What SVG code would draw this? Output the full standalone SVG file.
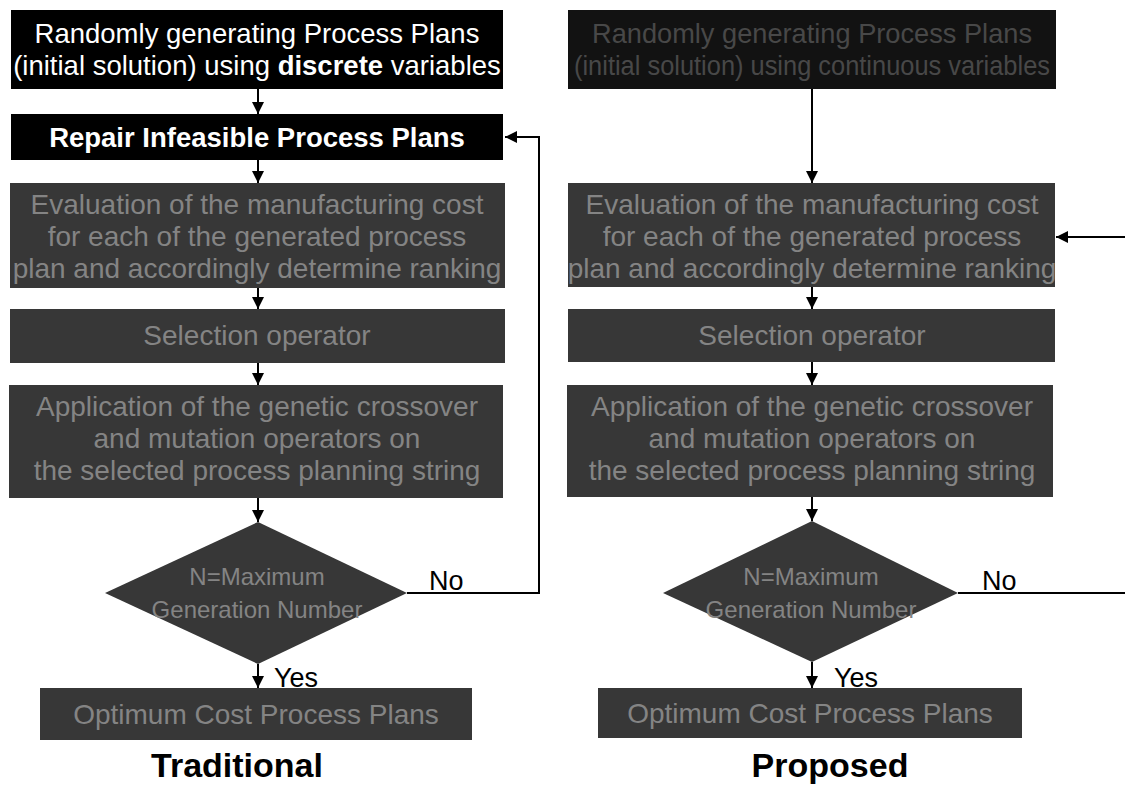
<svg xmlns="http://www.w3.org/2000/svg" width="1125" height="786" viewBox="0 0 1125 786">
  <defs>
    <marker id="arrow" markerUnits="userSpaceOnUse" markerWidth="12" markerHeight="12" refX="12" refY="6" orient="auto">
      <path d="M0,0 L12,6 L0,12 z" fill="#000"/>
    </marker>
    <style>
      text { font-family: "Liberation Sans", Arial, sans-serif; text-anchor: middle; }
      .black { fill: #000; }
      .gray { fill: #373737; }
      .darkest { fill: #121212; }
      .t-white { fill: #fff; font-size: 27.5px; }
      .t-bold { font-weight: bold; }
      .t-gray { fill: #848484; font-size: 28px; }
      .t-faint { fill: #484848; font-size: 27.5px; }
      .t-dia { fill: #848484; font-size: 24px; }
      .t-label { fill: #000; font-size: 27px; text-anchor: start; }
      .t-title { fill: #000; font-size: 34px; font-weight: bold; }
      .conn { stroke: #000; stroke-width: 2; fill: none; }
    </style>
  </defs>
  <rect width="1125" height="786" fill="#fff"/>

  <!-- Traditional flow -->
  <g id="t-init">
    <rect class="black" x="11" y="10" width="492" height="79"/>
    <text class="t-white" x="257" y="43">Randomly generating Process Plans</text>
    <text class="t-white" x="257" y="75">(initial solution) using <tspan class="t-bold">discrete</tspan> variables</text>
  </g>
  <g id="t-repair">
    <rect class="black" x="11" y="114" width="492" height="46"/>
    <text class="t-white t-bold" x="257" y="147">Repair Infeasible Process Plans</text>
  </g>
  <g id="t-eval">
    <rect class="gray" x="10" y="183" width="495" height="105"/>
    <text class="t-gray" x="257" y="214">Evaluation of the manufacturing cost</text>
    <text class="t-gray" x="257" y="246">for each of the generated process</text>
    <text class="t-gray" x="257" y="278">plan and accordingly determine ranking</text>
  </g>
  <g id="t-select">
    <rect class="gray" x="10" y="309" width="495" height="54"/>
    <text class="t-gray" x="257" y="345">Selection operator</text>
  </g>
  <g id="t-apply">
    <rect class="gray" x="9" y="385" width="494" height="113"/>
    <text class="t-gray" x="257" y="416">Application of the genetic crossover</text>
    <text class="t-gray" x="257" y="448">and mutation operators on</text>
    <text class="t-gray" x="257" y="480">the selected process planning string</text>
  </g>
  <g id="t-check">
    <polygon class="gray" points="258,522 407,593 258,664 105,593"/>
    <text class="t-dia" x="257" y="585">N=Maximum</text>
    <text class="t-dia" x="257" y="618">Generation Number</text>
  </g>
  <g id="t-result">
    <rect class="gray" x="40" y="688" width="432" height="52"/>
    <text class="t-gray" x="256" y="724">Optimum Cost Process Plans</text>
  </g>
  <text class="t-title" x="237" y="777">Traditional</text>

  <!-- Proposed flow -->
  <g id="p-init">
    <rect class="darkest" x="568" y="10" width="488" height="79"/>
    <text class="t-faint" x="812" y="43" textLength="440" lengthAdjust="spacingAndGlyphs">Randomly generating Process Plans</text>
    <text class="t-faint" x="812" y="75" textLength="476" lengthAdjust="spacingAndGlyphs">(initial solution) using continuous variables</text>
  </g>
  <g id="p-eval">
    <rect class="gray" x="568" y="183" width="487" height="104"/>
    <text class="t-gray" x="812" y="214">Evaluation of the manufacturing cost</text>
    <text class="t-gray" x="812" y="246">for each of the generated process</text>
    <text class="t-gray" x="812" y="278">plan and accordingly determine ranking</text>
  </g>
  <g id="p-select">
    <rect class="gray" x="568" y="309" width="487" height="53"/>
    <text class="t-gray" x="812" y="345">Selection operator</text>
  </g>
  <g id="p-apply">
    <rect class="gray" x="567" y="385" width="486" height="112"/>
    <text class="t-gray" x="812" y="416">Application of the genetic crossover</text>
    <text class="t-gray" x="812" y="448">and mutation operators on</text>
    <text class="t-gray" x="812" y="480">the selected process planning string</text>
  </g>
  <g id="p-check">
    <polygon class="gray" points="812,521 958,593 812,662 663,593"/>
    <text class="t-dia" x="811" y="585">N=Maximum</text>
    <text class="t-dia" x="811" y="618">Generation Number</text>
  </g>
  <g id="p-result">
    <rect class="gray" x="598" y="688" width="424" height="50"/>
    <text class="t-gray" x="810" y="723">Optimum Cost Process Plans</text>
  </g>
  <text class="t-title" x="830" y="777">Proposed</text>

  <!-- Connectors -->
  <g id="connectors">
    <line class="conn" x1="258" y1="89" x2="258" y2="114" marker-end="url(#arrow)"/>
    <line class="conn" x1="258" y1="160" x2="258" y2="183" marker-end="url(#arrow)"/>
    <line class="conn" x1="258" y1="288" x2="258" y2="309" marker-end="url(#arrow)"/>
    <line class="conn" x1="258" y1="363" x2="258" y2="385" marker-end="url(#arrow)"/>
    <line class="conn" x1="258" y1="498" x2="258" y2="522" marker-end="url(#arrow)"/>
    <line class="conn" x1="258" y1="664" x2="258" y2="688" marker-end="url(#arrow)"/>
    <polyline class="conn" points="407,593 539,593 539,137 505,137" marker-end="url(#arrow)"/>

    <line class="conn" x1="812" y1="89" x2="812" y2="183" marker-end="url(#arrow)"/>
    <line class="conn" x1="812" y1="287" x2="812" y2="309" marker-end="url(#arrow)"/>
    <line class="conn" x1="812" y1="362" x2="812" y2="385" marker-end="url(#arrow)"/>
    <line class="conn" x1="812" y1="497" x2="812" y2="521" marker-end="url(#arrow)"/>
    <line class="conn" x1="812" y1="662" x2="812" y2="688" marker-end="url(#arrow)"/>
    <line class="conn" x1="958" y1="593" x2="1125" y2="593"/>
    <line class="conn" x1="1125" y1="237" x2="1056" y2="237" marker-end="url(#arrow)"/>

    <text class="t-label" x="429" y="590">No</text>
    <text class="t-label" x="274" y="687">Yes</text>
    <text class="t-label" x="982" y="590">No</text>
    <text class="t-label" x="834" y="687">Yes</text>
  </g>
</svg>
